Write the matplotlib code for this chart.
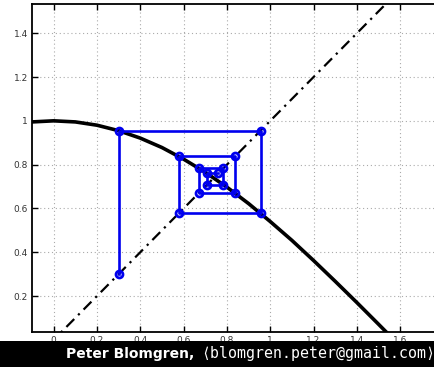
import matplotlib.pyplot as plt
from matplotlib.patches import Rectangle

# g(x) = cos(x)
curve_x = [-0.1, 0.0, 0.1, 0.2, 0.3, 0.4, 0.5, 0.6, 0.7, 0.8, 0.9,
           1.0, 1.1, 1.2, 1.3, 1.4, 1.5, 1.6]
curve_y = [0.995, 1.0, 0.995, 0.980, 0.955, 0.921, 0.878, 0.825, 0.765,
           0.697, 0.622, 0.540, 0.454, 0.362, 0.267, 0.170, 0.071, -0.029]

# fixed point iterates x_{k+1} = g(x_k)
iterates = [0.3, 0.955, 0.578, 0.838, 0.669, 0.784, 0.708, 0.760]

x_ticks = [0, 0.2, 0.4, 0.6, 0.8, 1, 1.2, 1.4, 1.6]
x_labels = ["0", "0.2", "0.4", "0.6", "0.8", "1", "1.2", "1.4", "1.6"]
y_ticks = [0.2, 0.4, 0.6, 0.8, 1, 1.2, 1.4]
y_labels = ["0.2", "0.4", "0.6", "0.8", "1", "1.2", "1.4"]

# cobweb path
web_x, web_y = [iterates[0]], [iterates[0]]
for a, b in zip(iterates[:-1], iterates[1:]):
    web_x += [a, b]
    web_y += [b, b]

fig = plt.figure(figsize=(4.35, 3.67), dpi=100)
ax = fig.add_axes([0.0736, 0.0962, 0.946, 0.892])

ax.plot([-0.1, 1.8], [-0.1, 1.8], color="black", lw=1.6, ls="-.", dashes=(5, 2.5, 1, 2.5))
ax.plot(curve_x, curve_y, color="black", lw=2.6)
ax.plot(web_x, web_y, color="#0000ee", lw=1.9, marker="o", ms=5,
        mfc="none", mec="#0000ee", mew=2)

ax.set_xlim(-0.1, 1.8)
ax.set_ylim(0.037, 1.532)
ax.set_xticks(x_ticks)
ax.set_xticklabels(x_labels)
ax.set_yticks(y_ticks)
ax.set_yticklabels(y_labels)
ax.grid(True, ls=(0, (1, 2.5)), color="#aaaaaa", lw=0.8)
ax.tick_params(direction="in", length=4, width=1, labelsize=6.5,
               labelcolor="#333333", top=True, right=True, pad=3)
for s in ax.spines.values():
    s.set_linewidth(1.3)

# footer bar
fig.patches.append(Rectangle((0, 0), 1, 26 / 367, transform=fig.transFigure,
                             facecolor="black", edgecolor="none", zorder=5))
fig.text(66 / 435, 9 / 367, "Peter Blomgren,", color="white", fontsize=10,
         fontweight="bold", family="DejaVu Sans", zorder=6)
fig.text(201 / 435, 9 / 367, "\u27e8blomgren.peter@gmail.com\u27e9", color="white",
         fontsize=10.7, family="DejaVu Sans Mono", zorder=6)

fig.savefig("out.png", dpi=100)
